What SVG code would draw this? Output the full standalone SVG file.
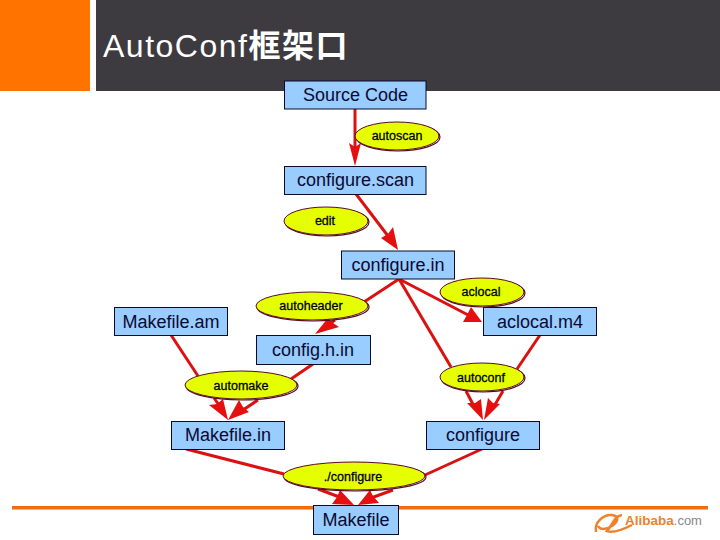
<svg xmlns="http://www.w3.org/2000/svg" width="720" height="540" viewBox="0 0 720 540">
<style>
.box{fill:#99ccff;stroke:#0a0a2a;stroke-width:1}
.bt{font-family:"Liberation Sans",Arial,sans-serif;font-size:18px;fill:#0a0a30;text-anchor:middle}
.el{fill:#e6ff00;stroke:#5a0a2a;stroke-width:1}
.sh{fill:none;stroke:#5a0a2a;stroke-width:1.2}
.et{font-family:"Liberation Sans",Arial,sans-serif;font-size:12.500px;fill:#000;text-anchor:middle;stroke:#000;stroke-width:.3}
.c{fill:none;stroke:#dc1010;stroke-width:3}
.a{fill:#e60f0f}
</style>
<rect width="90" height="91" fill="#ff7300"/>
<rect x="96" width="624" height="91" fill="#3d3b40"/>
<text x="103" y="57" font-family="'Liberation Sans','Noto Sans CJK SC',sans-serif" font-size="32" letter-spacing="1.500" fill="#fff">AutoConf<tspan font-weight="bold">框架口</tspan></text>
<rect x="12" y="506" width="696" height="3.500" fill="#f26a12"/>
<g id="connectors">
<path class="c" d="M355 109V150"/><polygon class="a" points="355,166 349,143 355,147 361,143"/>
<path class="c" d="M356 194L388 236"/><polygon class="a" points="398,250 381,238 388,234 393,227"/>
<path class="c" d="M399 279L364 302M335 320L322 329"/><polygon class="a" points="315,334 328,318 333,323 339,327"/>
<path class="c" d="M399 279L470 316"/><polygon class="a" points="482,322 463,322 467,315 471,307"/>
<path class="c" d="M399 279L451 367"/>
<path class="c" d="M540 335L517 369"/>
<path class="c" d="M171 335L198 376"/>
<path class="c" d="M313 364L291 379"/>
<path class="c" d="M214 398L224 412"/><polygon class="a" points="228,420 209,405 217,404 223,399"/>
<path class="c" d="M258 400L240 412"/><polygon class="a" points="228,420 239,400 243,407 249,412"/>
<path class="c" d="M186 449L284 474"/>
<path class="c" d="M482 449L425 475"/>
<path class="c" d="M466 391L476 410"/><polygon class="a" points="483,420 467,403 475,403 481,399"/>
<path class="c" d="M503 391L493 408"/><polygon class="a" points="484,420 488,398 493,403 500,404"/>
<path class="c" d="M318 489L342 498"/><polygon class="a" points="354,505 332,504 337,497 340,490"/>
<path class="c" d="M393 490L371 498"/><polygon class="a" points="358,505 370,490 373,496 379,503"/>
</g>
<g id="source-code"><rect class="box" x="284.500" y="81" width="141.500" height="28"/><text class="bt" x="355.500" y="101">Source Code</text></g>
<g id="configure-scan"><rect class="box" x="284.500" y="166.500" width="141.500" height="28"/><text class="bt" x="355.500" y="186">configure.scan</text></g>
<g id="configure-in"><rect class="box" x="341.500" y="251" width="113" height="28"/><text class="bt" x="398" y="271">configure.in</text></g>
<g id="makefile-am"><rect class="box" x="114.500" y="307.500" width="113" height="28"/><text class="bt" x="171" y="328">Makefile.am</text></g>
<g id="config-h-in"><rect class="box" x="256.500" y="335.500" width="114" height="29"/><text class="bt" x="313" y="356">config.h.in</text></g>
<g id="aclocal-m4"><rect class="box" x="483.500" y="307.500" width="113" height="28"/><text class="bt" x="540" y="328">aclocal.m4</text></g>
<g id="makefile-in"><rect class="box" x="171.500" y="421.500" width="113" height="28"/><text class="bt" x="228" y="441">Makefile.in</text></g>
<g id="configure"><rect class="box" x="426.500" y="421.500" width="113" height="28"/><text class="bt" x="483" y="441">configure</text></g>
<g id="makefile"><rect class="box" x="313.500" y="505.500" width="85" height="29"/><text class="bt" x="356" y="526">Makefile</text></g>
<g id="autoscan"><ellipse class="sh" cx="398" cy="137" rx="42" ry="14"/><ellipse class="el" cx="397" cy="136" rx="42" ry="14"/><text class="et" x="397" y="140">autoscan</text></g>
<g id="edit"><ellipse class="sh" cx="327" cy="222" rx="42" ry="14"/><ellipse class="el" cx="326" cy="221" rx="42" ry="14"/><text class="et" x="325" y="225">edit</text></g>
<g id="aclocal"><ellipse class="sh" cx="483" cy="293" rx="42" ry="14"/><ellipse class="el" cx="482" cy="292" rx="42" ry="14"/><text class="et" x="481" y="296">aclocal</text></g>
<g id="autoheader"><ellipse class="sh" cx="313" cy="307" rx="56" ry="14"/><ellipse class="el" cx="312" cy="306" rx="56" ry="14"/><text class="et" x="311" y="310">autoheader</text></g>
<g id="automake"><ellipse class="sh" cx="242" cy="386" rx="56" ry="14"/><ellipse class="el" cx="241" cy="385" rx="56" ry="14"/><text class="et" x="241" y="390">automake</text></g>
<g id="autoconf"><ellipse class="sh" cx="483" cy="378" rx="42" ry="14"/><ellipse class="el" cx="482" cy="377" rx="42" ry="14"/><text class="et" x="481" y="382">autoconf</text></g>
<g id="run-configure"><ellipse class="sh" cx="355" cy="477" rx="71" ry="14"/><ellipse class="el" cx="354" cy="476" rx="71" ry="14"/><text class="et" x="353" y="481">./configure</text></g>
<g id="logo">
<path d="M596 532C594 522 604 514 612 515C620 516 618 522 612 526C606 530 600 530 598 526M622 515C614 516 612 526 607 531C612 533 622 530 632 525" fill="none" stroke="#f0802a" stroke-width="2.500"/>
<text x="625" y="525" font-family="'Liberation Sans',sans-serif" font-size="13.500" font-weight="bold" fill="#f0802a">Alibaba<tspan font-weight="normal" fill="#888" font-size="13">.com</tspan></text>
</g>
</svg>
